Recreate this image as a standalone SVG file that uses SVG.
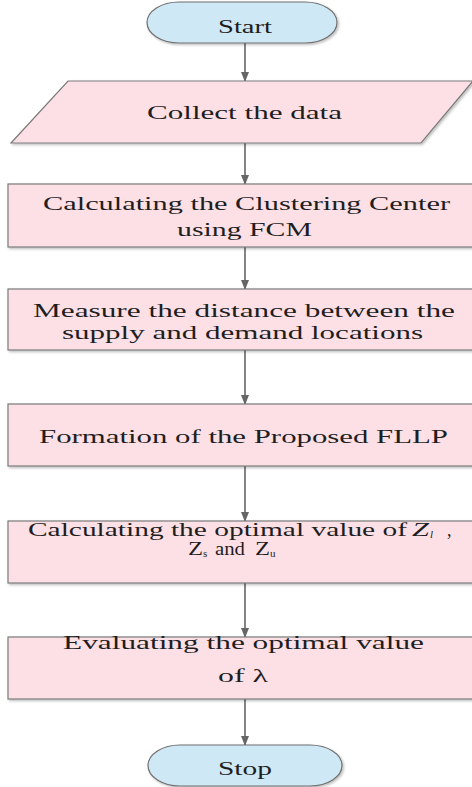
<svg xmlns="http://www.w3.org/2000/svg" width="472" height="787" viewBox="0 0 472 787">
<style>
.term{fill:#cfe8f5;stroke:#6f6f6f;stroke-width:1.2;filter:url(#sh)}
.proc{fill:#fde0e6;stroke:#7a7a7a;stroke-width:1.2;filter:url(#sh)}
.t{font-family:'Liberation Serif','Times New Roman',serif;font-size:18px;fill:#1e1e1e}
.sub{font-size:11px}
.conn line{stroke:#666;stroke-width:1.6}
</style>
<defs>
<filter id="sh" x="-5%" y="-10%" width="115%" height="130%">
<feDropShadow dx="1.5" dy="1.5" stdDeviation="0.8" flood-color="#000" flood-opacity="0.25"/>
</filter>
<marker id="ah" markerWidth="10" markerHeight="8" refX="9" refY="4" orient="auto" markerUnits="userSpaceOnUse">
<path d="M0,0 L10,4 L0,8 Z" fill="#666"/>
</marker>
</defs>
<rect width="472" height="787" fill="#ffffff"/>
<g class="conn">
<line x1="245" y1="43" x2="245" y2="81" marker-end="url(#ah)"/>
<line x1="245" y1="143" x2="245" y2="184" marker-end="url(#ah)"/>
<line x1="245" y1="247" x2="245" y2="289" marker-end="url(#ah)"/>
<line x1="245" y1="350" x2="245" y2="404" marker-end="url(#ah)"/>
<line x1="245" y1="466" x2="245" y2="521" marker-end="url(#ah)"/>
<line x1="245" y1="583" x2="245" y2="637" marker-end="url(#ah)"/>
<line x1="245" y1="699" x2="245" y2="745" marker-end="url(#ah)"/>
</g>
<g id="start">
<rect class="term" x="147" y="2" width="190" height="41" rx="32" ry="20.5"/>
<text class="t" x="218" y="33" textLength="54" lengthAdjust="spacingAndGlyphs">Start</text>
</g>
<g id="collect">
<polygon class="proc" points="68,81 473,81 421,143 11,143"/>
<text class="t" x="147" y="119" textLength="195" lengthAdjust="spacingAndGlyphs">Collect the data</text>
</g>
<g id="clustering">
<rect class="proc" x="8" y="184" width="470" height="63"/>
<text class="t" x="43" y="210" textLength="407" lengthAdjust="spacingAndGlyphs">Calculating the Clustering Center</text>
<text class="t" x="177" y="236" textLength="135" lengthAdjust="spacingAndGlyphs">using FCM</text>
</g>
<g id="measure">
<rect class="proc" x="8" y="289" width="470" height="61"/>
<text class="t" x="33" y="317" textLength="422" lengthAdjust="spacingAndGlyphs">Measure the distance between the</text>
<text class="t" x="62" y="339" textLength="361" lengthAdjust="spacingAndGlyphs">supply and demand locations</text>
</g>
<g id="formation">
<rect class="proc" x="8" y="404" width="470" height="62"/>
<text class="t" x="39" y="443" textLength="409" lengthAdjust="spacingAndGlyphs">Formation of the Proposed FLLP</text>
</g>
<g id="optimal">
<rect class="proc" x="8" y="521" width="470" height="62"/>
<text class="t" x="28" y="536" textLength="379" lengthAdjust="spacingAndGlyphs">Calculating the optimal value of</text>
<text class="t" x="412" y="536" font-style="italic" textLength="17" lengthAdjust="spacingAndGlyphs">Z</text>
<text class="t sub" x="430" y="538" font-style="italic">l</text>
<text class="t" x="447" y="536">,</text>
<text class="t" x="188" y="555" textLength="15" lengthAdjust="spacingAndGlyphs">Z</text>
<text class="t sub" x="203" y="557" font-size="12">s</text>
<text class="t" x="215" y="555" textLength="30" lengthAdjust="spacingAndGlyphs">and</text>
<text class="t" x="255" y="555" textLength="15" lengthAdjust="spacingAndGlyphs">Z</text>
<text class="t sub" x="270" y="557">u</text>
</g>
<g id="lambda">
<rect class="proc" x="8" y="637" width="470" height="62"/>
<text class="t" x="63" y="649" textLength="361" lengthAdjust="spacingAndGlyphs">Evaluating  the optimal value</text>
<text class="t" x="218" y="682" textLength="50" lengthAdjust="spacingAndGlyphs">of λ</text>
</g>
<g id="stop">
<rect class="term" x="148" y="745" width="194" height="41" rx="32" ry="20.5"/>
<text class="t" x="218" y="775" textLength="54" lengthAdjust="spacingAndGlyphs">Stop</text>
</g>
</svg>
